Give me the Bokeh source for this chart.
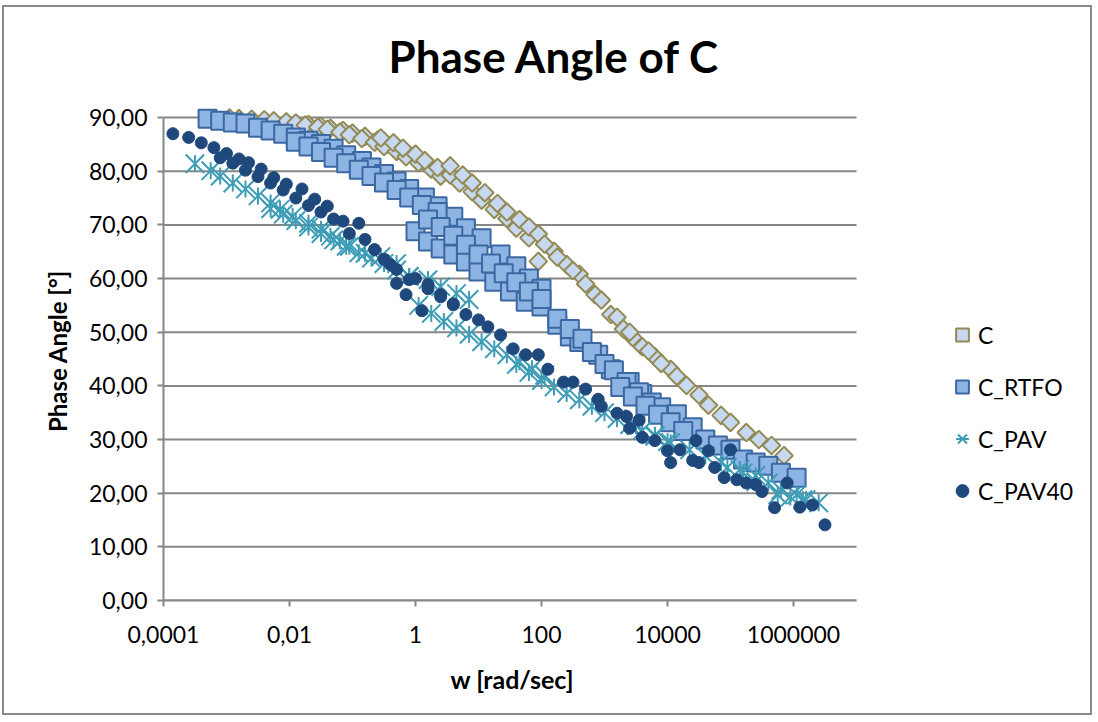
import math
from bokeh.plotting import figure
from bokeh.models import Range1d, FixedTicker, Legend, LegendItem, Title
from bokeh.embed import file_html
from bokeh.resources import INLINE

# ---------------- data ----------------
c_w = [1.12e-3, 1.58e-3, 2.51e-3, 3.98e-3, 5.62e-3, 8.91e-3, 1.26e-2, 2.0e-2, 3.16e-2, 4.47e-2, 7.08e-2, 0.1, 0.158, 0.251, 0.355,
       1.78e-2, 2.82e-2, 3.98e-2, 6.31e-2, 8.91e-2, 0.141, 0.224, 0.316, 0.501, 0.708, 1.12, 1.78, 2.51,
       0.282, 0.447, 0.631, 1.0, 1.41, 2.24, 3.55, 5.01, 7.94, 11.2, 17.8, 28.2, 39.8, 63.1,
       3.55, 5.62, 7.94, 12.6, 20.0, 28.2, 44.7, 63.1, 89.1,
       89.1, 158, 251, 398, 708, 1260, 2000, 2820, 3980, 6310, 11200,
       112, 178, 316, 501, 891, 1580, 2510, 5010, 7940, 14100, 20000, 31600, 44700, 70800, 1.0e5, 1.78e5, 2.82e5, 4.47e5, 7.08e5]
c_pa = [89.9, 89.8, 89.7, 89.6, 89.4, 89.2, 89.0, 88.7, 88.4, 88.0, 87.6, 87.1, 86.5, 85.8, 85.0,
        88.6, 88.2, 87.8, 87.3, 86.8, 86.1, 85.4, 84.6, 83.7, 82.7, 81.6, 80.4, 79.1,
        86.2, 85.3, 84.3, 83.2, 82.0, 80.7, 79.3, 77.8, 76.2, 74.6, 72.9, 71.2, 69.4, 67.6,
        81.0, 79.3, 77.8, 76.0, 74.0, 72.4, 71.0, 69.6, 68.3,
        63.2, 65.1, 62.6, 60.8, 57.0, 53.3, 50.6, 49.0, 47.3, 45.4, 43.1,
        66.4, 64.0, 61.5, 59.0, 56.0, 52.8, 50.0, 46.5, 44.2, 41.8, 40.1, 38.3, 36.4, 34.5, 33.2, 31.3, 30.0, 28.9, 27.0]

rtfo_w = [5.01e-4, 7.94e-4, 1.26e-3, 2.0e-3, 3.16e-3, 5.01e-3, 7.94e-3, 1.26e-2, 2.0e-2, 3.16e-2, 5.01e-2, 7.94e-2, 0.141,
          0.2, 0.316, 0.501, 0.794, 1.41, 2.24, 3.98, 6.31, 11.2, 22.4, 39.8, 63.1, 100,
          1.26e-2, 2.0e-2, 3.16e-2, 5.01e-2, 7.94e-2, 0.126, 0.2, 0.316, 0.501, 0.794, 1.26, 2.24,
          1.0, 1.58, 2.51, 3.98, 6.31, 10, 17.8, 31.6, 56.2, 100,
          1.58, 2.51, 3.98, 6.31, 10, 15.8, 25.1, 39.8, 63.1, 100,
          178, 282, 398, 794, 1260, 2510, 3980,
          178, 282, 447, 631, 1000, 1410, 2240, 3550, 5620, 7940, 14100, 25100, 39800, 63100, 1.0e5, 1.58e5,
          2.51e5, 3.98e5, 6.31e5, 1.12e6,
          1780, 2820, 4470, 7080, 11200, 17800]
rtfo_pa = [89.8, 89.4, 89.1, 88.9, 88.1, 87.6, 87.0, 86.3, 85.7, 85.1, 84.2, 83.0, 81.9,
           80.7, 79.5, 78.1, 76.7, 75.1, 73.5, 71.5, 69.4, 67.5, 64.5, 62.3, 60.0, 58.1,
           85.5, 84.6, 83.6, 82.5, 81.5, 80.3, 79.1, 77.9, 76.5, 75.1, 73.7, 72.4,
           68.8, 66.9, 65.6, 64.5, 63.2, 61.3, 59.4, 57.6, 55.7, 54.8,
           71.0, 69.6, 68.0, 66.3, 64.5, 62.8, 61.0, 59.3, 57.6, 56.2,
           51.4, 49.2, 48.2, 45.8, 43.1, 40.7, 38.5,
           52.5, 50.6, 48.8, 46.3, 44.1, 42.9, 40.7, 38.8, 36.9, 36.0, 34.7, 32.3, 30.0, 28.9, 28.1, 26.3,
           25.7, 25.1, 23.8, 22.9,
           39.8, 38.0, 36.3, 34.6, 33.2, 31.6]

pav_w = [3.16e-4, 5.62e-4, 7.94e-4, 1.26e-3, 2.0e-3, 3.16e-3, 5.01e-3, 7.08e-3, 1.12e-2, 2.0e-2, 3.16e-2, 4.47e-2,
         5.01e-3, 7.94e-3, 1.26e-2, 2.0e-2, 3.16e-2, 5.01e-2, 7.94e-2, 0.126, 0.2, 0.316, 0.501, 0.794,
         6.31e-2, 8.91e-2, 0.158, 0.282, 0.501, 0.794, 1.58, 2.51, 4.47, 7.08,
         1.12, 1.78, 2.82, 4.47, 7.08, 11.2, 17.8, 28.2, 44.7, 70.8, 112,
         39.8, 63.1, 100, 158, 251, 398, 631, 1000, 1580, 2510, 3980, 6310, 10000,
         3160, 6310, 11200, 22400, 39800, 70800, 1.41e5, 2.51e5, 3.98e5, 6.31e5, 1.12e6, 1.58e6,
         89100, 1.58e5, 2.51e5, 5.62e5, 8.91e5, 1.41e6, 2.51e6]
pav_pa = [81.4, 80.1, 79.1, 77.8, 76.7, 75.4, 74.1, 72.9, 71.6, 70.3, 69.2, 67.9,
          73.0, 72.0, 70.8, 69.6, 68.4, 67.2, 66.0, 64.8, 63.8, 62.8, 61.6, 60.4,
          67.0, 66.0, 64.7, 64.1, 62.8, 60.4, 59.8, 58.5, 57.2, 56.1,
          55.0, 53.5, 52.0, 50.8, 49.6, 48.2, 46.9, 45.8, 44.5, 43.2, 42.0,
          44.0, 42.5, 41.0, 39.8, 38.6, 37.4, 36.2, 35.0, 33.9, 32.8, 31.7, 30.6, 29.6,
          32.6, 30.8, 29.4, 28.1, 27.0, 25.7, 24.4, 23.3, 21.9, 20.6, 19.7, 18.8,
          24.8, 23.8, 22.1, 19.7, 19.3, 18.8, 18.2]

pav40_w = [1.41e-4, 2.51e-4, 3.98e-4, 6.31e-4, 1.0e-3, 1.58e-3, 2.24e-3, 3.55e-3, 5.62e-3, 8.91e-3, 1.58e-2, 2.51e-2, 3.98e-2, 7.08e-2, 0.126,
           7.94e-4, 1.26e-3, 2.0e-3, 3.16e-3, 5.01e-3, 7.94e-3, 1.26e-2, 2.0e-2, 3.16e-2, 5.01e-2,
           8.91e-2, 0.158, 0.224, 0.316, 0.398, 0.501, 0.794, 1.58, 2.51, 3.98,
           0.501, 0.708, 1.26,
           1.0, 1.58, 2.51, 3.98, 6.31, 10, 14.1, 22.4, 35.5, 56.2, 89.1, 126, 224, 316, 501, 794,
           891, 1580, 2240, 3550, 2510, 3980, 6310, 10000, 11200, 15800, 25100, 31600, 28200, 44700, 56200, 79400,
           1.0e5, 1.26e5, 1.78e5, 2.51e5, 3.16e5, 5.01e5, 7.94e5, 1.26e6, 2.0e6, 3.16e6]
pav40_pa = [87.0, 86.3, 85.3, 84.4, 83.3, 82.3, 81.6, 80.4, 78.8, 77.6, 76.7, 74.8, 73.5, 70.7, 70.3,
            82.5, 81.5, 80.2, 79.0, 77.8, 76.5, 75.0, 73.6, 72.4, 71.1,
            68.4, 67.3, 65.4, 63.6, 62.6, 61.7, 59.8, 58.1, 56.6, 55.3,
            59.1, 57.0, 54.0,
            60.0, 58.9, 57.0, 55.1, 53.3, 52.3, 51.0, 49.5, 46.9, 45.8, 45.8, 43.1, 40.7, 40.7, 39.4, 37.5,
            36.2, 34.9, 34.3, 33.6, 32.1, 30.4, 29.8, 27.9, 25.7, 28.1, 26.1, 25.7, 29.8, 27.9, 24.8, 22.9,
            28.1, 22.5, 21.9, 21.6, 20.3, 17.3, 21.9, 17.4, 17.8, 14.1]

series_labels = ["C", "C_RTFO", "C_PAV", "C_PAV40"]
x_ticks = [1e-4, 1e-2, 1, 1e2, 1e4, 1e6]
x_tick_labels = ["0,0001", "0,01", "1", "100", "10000", "1000000"]
x_axis_min, x_axis_max = 1e-4, 1e7
y_ticks = [0, 10, 20, 30, 40, 50, 60, 70, 80, 90]
y_tick_labels = ["0,00", "10,00", "20,00", "30,00", "40,00", "50,00", "60,00", "70,00", "80,00", "90,00"]

assert len(c_w) == len(c_pa)
assert len(rtfo_w) == len(rtfo_pa)
assert len(pav_w) == len(pav_pa)
assert len(pav40_w) == len(pav40_pa)

# ---------------- geometry ----------------
FONT = "Lato"
GRAY = "#868686"
CANVAS_X0, CANVAS_Y0 = 4, 7           # canvas origin inside the chart border
AXIS_LEFT, AXIS_RIGHT = 163, 856      # drawn x-axis (1e-4 .. 1e7)
FRAME_RIGHT = 1080                    # frame extended to host the legend
px_per_decade = (AXIS_RIGHT - AXIS_LEFT) / (math.log10(x_axis_max) - math.log10(x_axis_min))
x_frame_end = 10 ** (math.log10(x_axis_min) + (FRAME_RIGHT - AXIS_LEFT) / px_per_decade)

W, H = 1090, 710
p = figure(width=W, height=H, x_axis_type="log",
           x_range=Range1d(x_axis_min, x_frame_end), y_range=Range1d(0, 93),
           output_backend="svg", toolbar_location=None,
           min_border_left=AXIS_LEFT - CANVAS_X0,
           min_border_right=W - (FRAME_RIGHT - CANVAS_X0),
           min_border_top=101 - CANVAS_Y0,
           min_border_bottom=H - (600 - CANVAS_Y0),
           background_fill_color="white", border_fill_color="white")
p.outline_line_color = None
p.styles = {"border": "2px solid #8a8a8a", "margin-left": "2px", "margin-top": "5px"}

p.title.text = "Phase Angle of C"
p.title.align = "left"
p.title.offset = 225
p.title.text_font = FONT
p.title.text_font_size = "44px"
p.title.text_font_style = "bold"
p.title.text_color = "black"
p.title.standoff = 39

p.xaxis.ticker = FixedTicker(ticks=x_ticks)
p.xaxis.major_label_overrides = dict(zip(x_ticks, x_tick_labels))
p.xaxis.bounds = (x_axis_min, x_axis_max)
p.yaxis.ticker = FixedTicker(ticks=y_ticks)
p.yaxis.major_label_overrides = dict(zip(y_ticks, y_tick_labels))
p.yaxis.bounds = (0, 90)

for ax in (p.xaxis, p.yaxis):
    ax.axis_line_color = GRAY
    ax.axis_line_width = 2
    ax.major_tick_line_color = GRAY
    ax.major_tick_line_width = 2
    ax.major_tick_out = 6
    ax.major_tick_in = 0
    ax.minor_tick_line_color = None
    ax.major_label_text_font = FONT
    ax.major_label_text_font_size = "23px"
    ax.major_label_text_color = "black"
    ax.axis_label_text_font = FONT
    ax.axis_label_text_font_style = "bold"
    ax.axis_label_text_color = "black"

p.yaxis.axis_label = "Phase Angle [°]"
p.yaxis.axis_label_text_font_size = "24px"
p.xaxis.major_label_standoff = 19
p.yaxis.major_label_standoff = 10
p.yaxis.axis_label_standoff = 14

# x-axis title, centred under the drawn axis span (not the extended frame)
x_title = Title(text="w [rad/sec]", align="left", offset=287, standoff=33,
                text_font=FONT, text_font_size="25px", text_font_style="bold", text_color="black")
p.add_layout(x_title, "below")

# horizontal gridlines limited to the drawn axis span
p.xgrid.grid_line_color = None
p.ygrid.grid_line_color = None
p.segment(x0=[x_axis_min] * len(y_ticks), x1=[x_axis_max] * len(y_ticks), y0=y_ticks, y1=y_ticks,
          line_color=GRAY, line_width=2, level="underlay")

# ---------------- series ----------------
r_c = p.scatter(c_w, c_pa, marker="square", size=12.5, angle=math.pi / 4,
                fill_color="#C6D9F1", line_color="#948A54", line_width=2)
r_r = p.scatter(rtfo_w, rtfo_pa, marker="square", size=18,
                fill_color="#8EB4E3", line_color="#3B68A2", line_width=2)
r_px = p.scatter(pav_w, pav_pa, marker="x", size=26,
                 line_color="#3E9DB6", line_width=2)
r_pd = p.scatter(pav_w, pav_pa, marker="dash", size=17, angle=math.pi / 2,
                 line_color="#3E9DB6", line_width=2)
r_d = p.scatter(pav40_w, pav40_pa, marker="circle", size=12,
                fill_color="#1F497D", line_color="#1F497D", line_width=1)

legend = Legend(items=[LegendItem(label=series_labels[0], renderers=[r_c]),
                       LegendItem(label=series_labels[1], renderers=[r_r]),
                       LegendItem(label=series_labels[2], renderers=[r_px, r_pd]),
                       LegendItem(label=series_labels[3], renderers=[r_d])],
                location=(946 - AXIS_LEFT, 92), orientation="vertical",
                glyph_width=32, glyph_height=35, spacing=17, padding=0, margin=0,
                label_standoff=0, label_text_font=FONT, label_text_font_size="23px",
                label_text_color="black", border_line_color=None, background_fill_alpha=0)
p.add_layout(legend, "center")

open("out.html", "w").write(file_html(p, INLINE))
